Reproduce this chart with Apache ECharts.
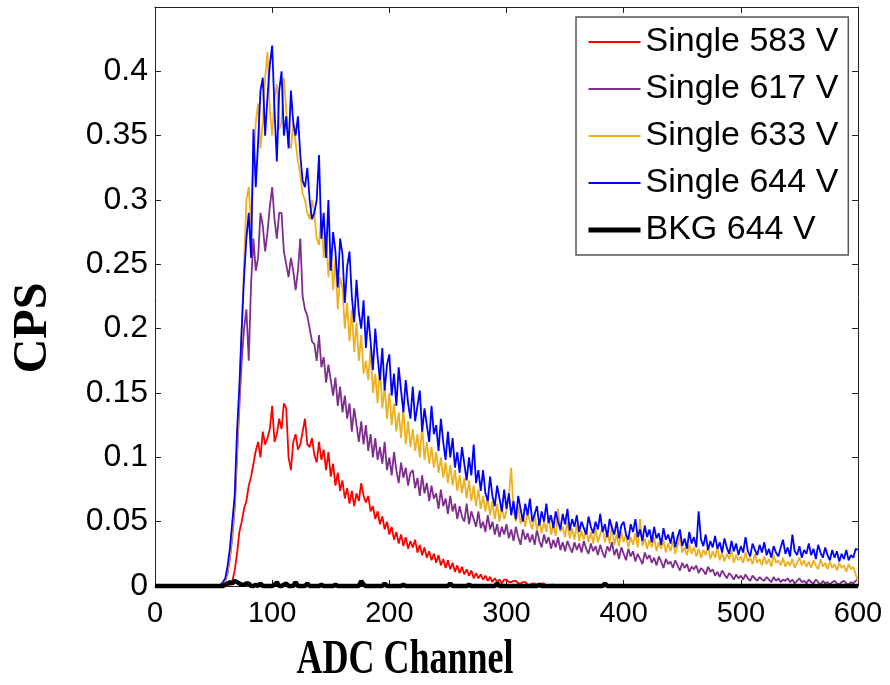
<!DOCTYPE html>
<html>
<head>
    <meta charset="UTF-8">
    <title>CPS vs ADC Channel</title>
    <script src="https://cdn.jsdelivr.net/npm/echarts@6/dist/echarts.min.js"></script>
    <style>
        html, body { margin: 0; padding: 0; background: #fff; }
        #main { width: 890px; height: 685px; }
    </style>
</head>
<body>
    <div id="main"></div>
    <script>
        // channel grid: every 2nd ADC channel, 0..600
        var channelStep = 2;
        var channels = [];
        for (var c = 0; c <= 600; c += channelStep) channels.push(c);

        var seriesNames = ['Single 583 V', 'Single 617 V', 'Single 633 V', 'Single 644 V', 'BKG 644 V'];
        var xTicks = [0, 100, 200, 300, 400, 500, 600];

        // values, one row = 10 channels (20 ADC units)
        var single583 = [
            0, 0, 0, 0, 0, 0, 0, 0, 0, 0,
            0, 0, 0, 0, 0, 0, 0, 0, 0, 0,
            0, 0, 0, 0, 0, 0, 0, 0, 0, 0,
            0, 0, 0.001, 0.004, 0.012, 0.025, 0.042, 0.05, 0.06, 0.066,
            0.078, 0.085, 0.095, 0.105, 0.112, 0.1, 0.12, 0.11, 0.115, 0.122,
            0.14, 0.112, 0.118, 0.13, 0.122, 0.142, 0.138, 0.1, 0.09, 0.112,
            0.118, 0.106, 0.11, 0.12, 0.13, 0.11, 0.108, 0.115, 0.102, 0.096,
            0.112, 0.098, 0.106, 0.09, 0.104, 0.085, 0.095, 0.078, 0.088, 0.074,
            0.082, 0.068, 0.076, 0.064, 0.074, 0.062, 0.072, 0.066, 0.08, 0.07,
            0.065, 0.07, 0.058, 0.062, 0.052, 0.058, 0.048, 0.054, 0.044, 0.05,
            0.04, 0.046, 0.036, 0.042, 0.033, 0.04, 0.031, 0.038, 0.029, 0.035,
            0.03, 0.036, 0.026, 0.032, 0.024, 0.03, 0.022, 0.027, 0.02, 0.025,
            0.018, 0.024, 0.016, 0.021, 0.014, 0.02, 0.013, 0.018, 0.011, 0.016,
            0.01, 0.015, 0.009, 0.013, 0.008, 0.012, 0.006, 0.01, 0.006, 0.009,
            0.005, 0.008, 0.004, 0.007, 0.003, 0.006, 0.003, 0.005, 0.002, 0.005,
            0.005, 0.003, 0.003, 0.004, 0.004, 0.002, 0.002, 0.003, 0.003, 0.001,
            0.001, 0.002, 0.002, 0.001, 0.001, 0.002, 0.002, 0, 0, 0.001,
            0.001, 0, 0, 0.001, 0, 0, 0, 0, 0.001, 0,
            0, 0, 0, 0, 0, 0, 0.001, 0, 0, 0,
            0, 0, 0, 0, 0, 0.001, 0, 0, 0, 0,
            0, 0, 0, 0, 0, 0, 0, 0.001, 0, 0,
            0, 0, 0, 0, 0, 0, 0, 0, 0, 0,
            0, 0, 0, 0, 0, 0, 0, 0, 0, 0,
            0, 0, 0, 0, 0, 0, 0, 0, 0, 0,
            0, 0, 0, 0, 0, 0, 0, 0, 0, 0,
            0, 0, 0, 0, 0, 0, 0, 0, 0, 0,
            0, 0, 0, 0, 0, 0, 0, 0, 0, 0,
            0, 0, 0, 0, 0, 0, 0, 0, 0, 0,
            0, 0, 0, 0, 0, 0, 0, 0, 0, 0,
            0, 0, 0, 0, 0, 0, 0, 0, 0, 0,
            0
        ];
        var single617 = [
            0, 0, 0, 0, 0, 0, 0, 0, 0, 0,
            0, 0, 0, 0, 0, 0, 0, 0, 0, 0,
            0, 0, 0, 0, 0, 0, 0, 0, 0, 0.001,
            0.004, 0.01, 0.022, 0.038, 0.06, 0.1, 0.14, 0.175, 0.2, 0.215,
            0.175, 0.235, 0.27, 0.245, 0.255, 0.29, 0.28, 0.26, 0.275, 0.295,
            0.31, 0.285, 0.27, 0.29, 0.29, 0.26, 0.25, 0.24, 0.255, 0.245,
            0.23, 0.245, 0.27, 0.225, 0.215, 0.21, 0.2, 0.19, 0.188, 0.175,
            0.195, 0.17, 0.178, 0.158, 0.172, 0.16, 0.148, 0.162, 0.14, 0.155,
            0.135, 0.148, 0.13, 0.142, 0.12, 0.138, 0.125, 0.112, 0.128, 0.11,
            0.125, 0.105, 0.118, 0.1, 0.115, 0.098, 0.108, 0.095, 0.112, 0.09,
            0.1, 0.086, 0.104, 0.09, 0.08, 0.096, 0.084, 0.092, 0.078, 0.088,
            0.09, 0.076, 0.084, 0.07, 0.086, 0.072, 0.08, 0.066, 0.078, 0.068,
            0.072, 0.06, 0.075, 0.062, 0.068, 0.056, 0.07, 0.058, 0.064, 0.052,
            0.062, 0.054, 0.05, 0.064, 0.048, 0.058, 0.052, 0.046, 0.058, 0.045,
            0.05, 0.042, 0.055, 0.044, 0.05, 0.04, 0.048, 0.038, 0.046, 0.04,
            0.048, 0.037, 0.044, 0.035, 0.046, 0.038, 0.032, 0.044, 0.036, 0.041,
            0.034, 0.04, 0.032, 0.044, 0.035, 0.03, 0.04, 0.033, 0.038, 0.029,
            0.036, 0.03, 0.038, 0.028, 0.034, 0.027, 0.035, 0.03, 0.026, 0.034,
            0.028, 0.033, 0.026, 0.035, 0.029, 0.025, 0.033, 0.027, 0.031, 0.024,
            0.032, 0.026, 0.022, 0.031, 0.027, 0.034, 0.024, 0.029, 0.021, 0.03,
            0.025, 0.02, 0.029, 0.023, 0.027, 0.019, 0.025, 0.021, 0.017, 0.026,
            0.021, 0.024, 0.018, 0.022, 0.016, 0.023, 0.019, 0.014, 0.021, 0.017,
            0.019, 0.014, 0.02, 0.016, 0.012, 0.018, 0.014, 0.017, 0.011, 0.015,
            0.013, 0.016, 0.01, 0.014, 0.012, 0.009, 0.015, 0.011, 0.013, 0.008,
            0.011, 0.007, 0.012, 0.009, 0.006, 0.01, 0.008, 0.005, 0.009, 0.006,
            0.008, 0.005, 0.009, 0.006, 0.004, 0.008, 0.006, 0.004, 0.007, 0.005,
            0.004, 0.007, 0.005, 0.003, 0.007, 0.004, 0.006, 0.003, 0.005, 0.004,
            0.006, 0.003, 0.005, 0.002, 0.004, 0.006, 0.003, 0.004, 0.002, 0.005,
            0.003, 0.002, 0.005, 0.003, 0.001, 0.004, 0.002, 0.003, 0.001, 0.003,
            0.004, 0.002, 0.001, 0.003, 0.004, 0.002, 0.001, 0.003, 0.002, 0.004,
            0.005
        ];
        var single633 = [
            0, 0, 0, 0, 0, 0, 0, 0, 0, 0,
            0, 0, 0, 0, 0, 0, 0, 0, 0, 0,
            0, 0, 0, 0, 0, 0, 0, 0, 0, 0.002,
            0.004, 0.012, 0.025, 0.042, 0.065, 0.105, 0.15, 0.2, 0.25, 0.3,
            0.31, 0.28, 0.33, 0.36, 0.375, 0.34, 0.36, 0.395, 0.415, 0.37,
            0.35, 0.38, 0.39, 0.355, 0.36, 0.395, 0.37, 0.345, 0.34, 0.36,
            0.345, 0.33, 0.32, 0.305, 0.3, 0.29, 0.285, 0.3, 0.29, 0.27,
            0.265, 0.29, 0.255, 0.275, 0.24, 0.262, 0.23, 0.255, 0.215, 0.24,
            0.232, 0.2, 0.22, 0.19, 0.215, 0.182, 0.205, 0.175, 0.195, 0.165,
            0.175, 0.16, 0.185, 0.15, 0.165, 0.142, 0.17, 0.138, 0.155, 0.13,
            0.15, 0.125, 0.142, 0.12, 0.135, 0.115, 0.138, 0.11, 0.128, 0.108,
            0.122, 0.105, 0.118, 0.1, 0.125, 0.098, 0.112, 0.095, 0.108, 0.092,
            0.104, 0.088, 0.1, 0.084, 0.096, 0.08, 0.094, 0.078, 0.09, 0.074,
            0.086, 0.072, 0.084, 0.068, 0.082, 0.066, 0.078, 0.062, 0.075, 0.06,
            0.07, 0.058, 0.068, 0.055, 0.066, 0.052, 0.064, 0.05, 0.062, 0.052,
            0.058, 0.07, 0.092, 0.058, 0.05, 0.062, 0.048, 0.056, 0.046, 0.058,
            0.05, 0.044, 0.056, 0.043, 0.052, 0.041, 0.05, 0.042, 0.055, 0.04,
            0.048, 0.039, 0.06, 0.042, 0.046, 0.038, 0.05, 0.037, 0.045, 0.036,
            0.048, 0.035, 0.043, 0.036, 0.046, 0.034, 0.042, 0.033, 0.045, 0.034,
            0.04, 0.046, 0.034, 0.043, 0.033, 0.048, 0.032, 0.04, 0.031, 0.042,
            0.034, 0.04, 0.03, 0.038, 0.032, 0.041, 0.03, 0.052, 0.031, 0.037,
            0.029, 0.036, 0.03, 0.038, 0.027, 0.034, 0.029, 0.036, 0.026, 0.033,
            0.027, 0.035, 0.025, 0.031, 0.04, 0.026, 0.03, 0.024, 0.032, 0.025,
            0.03, 0.023, 0.029, 0.022, 0.028, 0.024, 0.031, 0.021, 0.027, 0.022,
            0.03, 0.02, 0.026, 0.019, 0.025, 0.021, 0.028, 0.018, 0.024, 0.02,
            0.023, 0.018, 0.026, 0.019, 0.022, 0.017, 0.025, 0.018, 0.021, 0.016,
            0.023, 0.017, 0.021, 0.015, 0.024, 0.018, 0.02, 0.016, 0.022, 0.015,
            0.019, 0.016, 0.021, 0.014, 0.018, 0.022, 0.016, 0.02, 0.015, 0.019,
            0.014, 0.02, 0.016, 0.013, 0.021, 0.015, 0.018, 0.013, 0.019, 0.014,
            0.017, 0.012, 0.018, 0.014, 0.016, 0.011, 0.017, 0.013, 0.015, 0.009,
            0.004
        ];
        var single644 = [
            0, 0, 0, 0, 0, 0, 0, 0, 0, 0,
            0, 0, 0, 0, 0, 0, 0, 0, 0, 0,
            0, 0, 0, 0, 0, 0, 0, 0, 0.001, 0.003,
            0.006, 0.016, 0.03, 0.05, 0.07, 0.12, 0.155, 0.2, 0.24, 0.27,
            0.29, 0.255, 0.355, 0.31, 0.345, 0.385, 0.395, 0.35, 0.38, 0.405,
            0.42, 0.37, 0.33, 0.385, 0.4, 0.35, 0.365, 0.34, 0.385, 0.36,
            0.35, 0.365, 0.335, 0.315, 0.31, 0.325, 0.3, 0.285, 0.29, 0.3,
            0.335, 0.27, 0.29, 0.255, 0.3, 0.245, 0.275, 0.26, 0.232, 0.27,
            0.258, 0.22, 0.248, 0.26, 0.225, 0.205, 0.238, 0.212, 0.2, 0.222,
            0.185, 0.21, 0.19, 0.168, 0.2, 0.178, 0.16, 0.185, 0.152, 0.172,
            0.18, 0.148, 0.165, 0.14, 0.17, 0.152, 0.135, 0.16, 0.142, 0.13,
            0.155, 0.128, 0.14, 0.152, 0.12, 0.138, 0.125, 0.112, 0.14, 0.118,
            0.125, 0.105, 0.13, 0.112, 0.098, 0.12, 0.1, 0.115, 0.092, 0.104,
            0.088, 0.108, 0.095, 0.082, 0.1, 0.086, 0.11, 0.08, 0.09, 0.074,
            0.09, 0.072, 0.066, 0.085, 0.07, 0.062, 0.078, 0.068, 0.058, 0.075,
            0.06, 0.072, 0.055, 0.066, 0.052, 0.07, 0.06, 0.05, 0.064, 0.055,
            0.068, 0.05, 0.056, 0.062, 0.047, 0.058, 0.05, 0.064, 0.049, 0.055,
            0.045, 0.058, 0.05, 0.044, 0.056, 0.048, 0.06, 0.043, 0.052, 0.046,
            0.055, 0.042, 0.05, 0.045, 0.04, 0.054, 0.046, 0.041, 0.05, 0.044,
            0.056, 0.042, 0.048, 0.038, 0.052, 0.045, 0.04, 0.05, 0.037, 0.047,
            0.05, 0.04, 0.036, 0.048, 0.042, 0.052, 0.038, 0.044, 0.035, 0.047,
            0.038, 0.044, 0.034, 0.046, 0.037, 0.041, 0.032, 0.045, 0.036, 0.04,
            0.033, 0.042, 0.03, 0.038, 0.044, 0.031, 0.037, 0.029, 0.042, 0.033,
            0.038, 0.03, 0.058, 0.036, 0.031, 0.04, 0.028, 0.035, 0.03, 0.039,
            0.029, 0.034, 0.026, 0.037, 0.03, 0.025, 0.035, 0.027, 0.033, 0.024,
            0.031, 0.026, 0.038, 0.027, 0.023, 0.033, 0.028, 0.024, 0.032, 0.026,
            0.034, 0.024, 0.029, 0.022, 0.031, 0.026, 0.023, 0.03, 0.036, 0.025,
            0.03, 0.023, 0.04, 0.027, 0.024, 0.031, 0.022, 0.028, 0.025, 0.033,
            0.024, 0.029, 0.021, 0.032, 0.026, 0.022, 0.03, 0.024, 0.02, 0.028,
            0.022, 0.027, 0.019, 0.025, 0.021, 0.028, 0.02, 0.024, 0.022, 0.029,
            0.028
        ];
        var bkg644 = [
            0, 0, 0, 0, 0, 0, 0, 0, 0, 0,
            0, 0, 0, 0, 0, 0, 0, 0, 0, 0,
            0, 0, 0, 0, 0, 0, 0, 0, 0, 0,
            0.001, 0.002, 0.003, 0.002, 0.004, 0.003, 0.002, 0.001, 0.001, 0.002,
            0.002, 0, 0, 0.001, 0, 0.002, 0, 0, 0, 0,
            0, 0.001, 0.003, 0, 0, 0.001, 0.002, 0, 0, 0,
            0.003, 0, 0, 0, 0, 0.002, 0, 0, 0, 0,
            0, 0.001, 0, 0, 0, 0, 0, 0.001, 0, 0,
            0, 0, 0, 0, 0, 0, 0, 0, 0.004, 0.001,
            0, 0, 0, 0, 0, 0, 0, 0, 0.002, 0,
            0, 0, 0, 0, 0, 0, 0.001, 0, 0, 0,
            0, 0, 0, 0, 0, 0, 0, 0, 0, 0,
            0, 0, 0, 0, 0, 0, 0.002, 0, 0, 0,
            0, 0, 0, 0, 0.001, 0, 0, 0, 0, 0,
            0, 0, 0, 0, 0, 0, 0.002, 0, 0, 0,
            0, 0, 0, 0, 0, 0, 0, 0, 0, 0,
            0, 0, 0, 0, 0.001, 0, 0, 0, 0, 0,
            0, 0, 0, 0, 0, 0, 0, 0, 0, 0,
            0, 0, 0, 0, 0, 0, 0, 0, 0, 0,
            0, 0, 0.002, 0, 0, 0, 0, 0, 0, 0,
            0, 0, 0, 0, 0, 0, 0, 0, 0, 0,
            0, 0, 0, 0, 0, 0, 0, 0, 0, 0,
            0, 0, 0, 0, 0, 0, 0, 0, 0, 0,
            0, 0, 0, 0, 0, 0, 0, 0, 0, 0,
            0, 0, 0, 0, 0, 0, 0, 0, 0, 0,
            0, 0, 0, 0, 0, 0, 0, 0, 0, 0,
            0, 0, 0, 0, 0, 0, 0, 0, 0, 0,
            0, 0, 0, 0, 0, 0, 0, 0, 0, 0,
            0, 0, 0, 0, 0, 0, 0, 0, 0, 0,
            0, 0, 0, 0, 0, 0, 0, 0, 0, 0,
            0
        ];

        var seriesValues = [single583, single617, single633, single644, bkg644];
        var seriesColors = ['#ff0000', '#7e2f8e', '#edb120', '#0000ff', '#000000'];
        var seriesWidths = [1.8, 1.8, 1.8, 1.8, 4.5];

        function pairs(values) {
            return channels.map(function (ch, i) { return [ch, values[i]]; });
        }

        var chart = echarts.init(document.getElementById('main'));

        var sansFont = '"Liberation Sans", Arial, sans-serif';
        var serifFont = '"Liberation Serif", "Times New Roman", serif';

        var option = {
            animation: false,
            backgroundColor: '#fff',
            grid: { left: 155, right: 32, top: 7, bottom: 99 },
            legend: {
                orient: 'vertical',
                left: 576,
                top: 17,
                padding: [8, 10, 8, 10],
                backgroundColor: '#fff',
                borderColor: '#555',
                borderWidth: 1.5,
                itemWidth: 52,
                itemHeight: 14,
                itemGap: 13,
                selectedMode: false,
                itemStyle: { opacity: 0 },
                textStyle: { color: '#000', fontSize: 34, lineHeight: 34, fontFamily: sansFont },
                data: seriesNames.map(function (name, k) {
                    return { name: name, lineStyle: { width: k === 4 ? 5 : 2 } };
                })
            },
            xAxis: [{
                type: 'value',
                min: 0,
                max: 600,
                interval: 100,
                axisLine: { show: true, onZero: false, lineStyle: { color: '#222', width: 1 } },
                axisTick: { show: true, inside: true, length: 6, lineStyle: { color: '#222' } },
                axisLabel: {
                    color: '#000',
                    fontSize: 29,
                    margin: 13,
                    fontFamily: sansFont,
                    customValues: xTicks
                },
                splitLine: { show: false }
            }, {
                type: 'value',
                position: 'top',
                min: 0,
                max: 600,
                interval: 100,
                axisLine: { show: true, onZero: false, lineStyle: { color: '#222', width: 1 } },
                axisTick: { show: true, inside: true, length: 6, lineStyle: { color: '#222' } },
                axisLabel: { show: false },
                splitLine: { show: false }
            }],
            yAxis: [{
                type: 'value',
                min: 0,
                max: 0.45,
                interval: 0.05,
                axisLine: { show: true, onZero: false, lineStyle: { color: '#222', width: 1 } },
                axisTick: { show: true, inside: true, length: 6, lineStyle: { color: '#222' } },
                axisLabel: {
                    color: '#000',
                    fontSize: 32,
                    margin: 7,
                    fontFamily: sansFont,
                    showMaxLabel: false,
                    formatter: function (v) { return v === 0 ? '0' : String(+v.toFixed(2)); }
                },
                splitLine: { show: false }
            }, {
                type: 'value',
                position: 'right',
                min: 0,
                max: 0.45,
                interval: 0.05,
                axisLine: { show: true, onZero: false, lineStyle: { color: '#222', width: 1 } },
                axisTick: { show: true, inside: true, length: 6, lineStyle: { color: '#222' } },
                axisLabel: { show: false },
                splitLine: { show: false }
            }],
            graphic: [{
                type: 'text',
                x: 405,
                y: 661,
                scaleX: 0.75,
                style: {
                    text: 'ADC Channel',
                    font: 'bold 48px ' + serifFont,
                    fill: '#000',
                    align: 'center',
                    verticalAlign: 'middle'
                }
            }, {
                type: 'text',
                x: 34,
                y: 328,
                rotation: Math.PI / 2,
                style: {
                    text: 'CPS',
                    font: 'bold 48px ' + serifFont,
                    fill: '#000',
                    align: 'center',
                    verticalAlign: 'middle'
                }
            }],
            series: seriesNames.map(function (name, k) {
                return {
                    name: name,
                    type: 'line',
                    xAxisIndex: 0,
                    yAxisIndex: 0,
                    symbol: 'none',
                    clip: k !== 4,
                    color: seriesColors[k],
                    lineStyle: { color: seriesColors[k], width: seriesWidths[k] },
                    data: pairs(seriesValues[k])
                };
            })
        };

        chart.setOption(option);
    </script>
</body>
</html>
